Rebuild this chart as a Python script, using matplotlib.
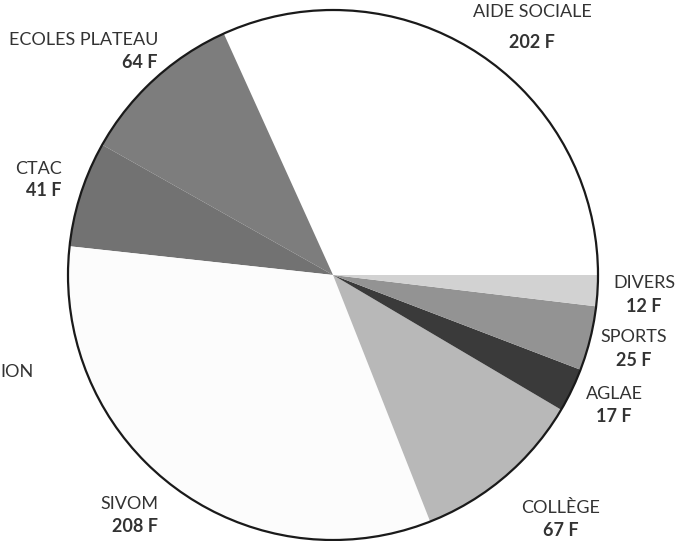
import matplotlib
matplotlib.use("Agg")
import matplotlib.pyplot as plt
from matplotlib.patches import Circle

# Budget slices (in F), counter-clockwise from 3 o'clock
labels = ["AIDE SOCIALE", "ECOLES PLATEAU", "CTAC", "SIVOM",
          "COLLÈGE", "AGLAE", "SPORTS", "DIVERS"]
values = [202, 64, 41, 208, 67, 17, 25, 12]
colors = ["#ffffff", "#7d7d7d", "#727272", "#fcfcfc",
          "#b8b8b8", "#3a3a3a", "#939393", "#d2d2d2"]

# label placement (pixel coords, y from top), alignment
label_pos = {
    "AIDE SOCIALE": (532, 12, 42, "center"),
    "ECOLES PLATEAU": (158, 40, 63, "right"),
    "CTAC": (62, 169, 190, "right"),
    "SIVOM": (158, 504, 527, "right"),
    "COLLÈGE": (561, 508, 530, "center"),
    "AGLAE": (614, 394, 416, "center"),
    "SPORTS": (634, 337, 360, "center"),
    "DIVERS": (644, 283, 307, "center"),
}

W, H = 690, 541
cx, cy, r = 333, 275, 265

plt.rcParams['font.family'] = ['Lato', 'DejaVu Sans']
fig = plt.figure(figsize=(W / 100, H / 100), dpi=100)
ax = fig.add_axes([0, 0, 1, 1])

# pie drawn in flipped axes -> counterclock=False gives visual ccw
ax.pie(values, colors=colors, startangle=0, counterclock=False,
       center=(cx, cy), radius=r, frame=True,
       wedgeprops=dict(linewidth=0))
ax.set_xlim(0, W)
ax.set_ylim(H, 0)
ax.axis('off')
ax.add_patch(Circle((cx, cy), r, fill=False, edgecolor="#1a1a1a", linewidth=1.6))

txt = "#333333"
for name, v in zip(labels, values):
    x, y1, y2, ha = label_pos[name]
    ax.text(x, y1, name, ha=ha, va="center", fontsize=13, color=txt)
    ax.text(x, y2, f"{v} F", ha=ha, va="center", fontsize=13,
            color=txt, fontweight="bold")

# cut-off label fragment at the left edge
ax.text(0, 372, "ION", ha="left", va="center", fontsize=13, color=txt)

fig.savefig("out.png", dpi=100)
